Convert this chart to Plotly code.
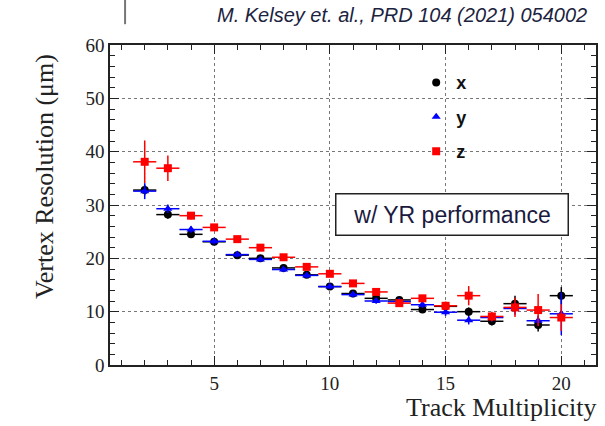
import plotly.graph_objects as go

mult = list(range(2, 21))
res_x = [32.8, 28.2, 24.5, 23.1, 20.6, 20.0, 18.2, 16.9, 14.7, 13.4, 12.5, 12.2, 10.4, 11.0, 10.0, 8.2, 11.5, 7.5, 13.0]
err_x = [1.0, 0.8, 0.6, 0.6, 0.5, 0.5, 0.5, 0.5, 0.5, 0.5, 0.5, 0.5, 0.6, 0.7, 0.8, 0.8, 1.5, 1.2, 1.6]
res_y = [32.6, 29.3, 25.4, 23.2, 20.7, 19.8, 17.9, 16.8, 14.7, 13.2, 12.0, 11.9, 11.3, 9.9, 8.4, 8.9, 10.6, 8.3, 9.6]
err_y = [1.5, 0.8, 0.6, 0.6, 0.5, 0.5, 0.5, 0.5, 0.5, 0.5, 0.5, 0.5, 0.6, 0.7, 0.8, 0.8, 1.2, 1.0, 4.0]
res_z = [38.1, 36.9, 28.0, 25.8, 23.6, 22.0, 20.2, 18.4, 17.1, 15.3, 13.7, 11.6, 12.5, 11.1, 13.0, 9.1, 10.8, 10.3, 8.9]
err_z = [4.0, 2.4, 0.7, 0.6, 0.5, 0.5, 0.5, 0.5, 0.5, 0.5, 0.5, 0.5, 0.6, 0.8, 1.8, 0.9, 1.8, 3.0, 2.5]
half_bin = [0.5] * len(mult)

series = [
    ("<b>x</b>", res_x, err_x, "#000000", "circle"),
    ("<b>y</b>", res_y, err_y, "#0000ff", "triangle-up"),
    ("<b>z</b>", res_z, err_z, "#ff0000", "square"),
]

fig = go.Figure()
for i, (name, vals, errs, col, sym) in enumerate(series):
    fig.add_trace(go.Scatter(
        x=mult, y=vals, mode="markers", name=name, legendgroup=str(i),
        marker=dict(color=col, symbol=sym, size=8),
        error_y=dict(type="data", array=errs, color=col, thickness=1.5, width=0),
        error_x=dict(type="data", array=half_bin, color=col, thickness=1.5, width=0),
    ))

axis_common = dict(
    showline=True, linecolor="#222", linewidth=1.5, mirror="allticks",
    ticks="inside", ticklen=9, tickwidth=1.3, tickcolor="#222",
    showgrid=True, gridcolor="#777", griddash="dot", gridwidth=1.2,
    zeroline=False,
    tickfont=dict(family="Liberation Serif", size=19, color="#222"),
)

fig.update_xaxes(range=[0.5, 21.5], dtick=5, tick0=0,
                 minor=dict(dtick=1, ticks="inside", ticklen=5, tickcolor="#222", showgrid=False),
                 **axis_common)
fig.update_yaxes(range=[0, 60], dtick=10, tick0=0,
                 minor=dict(dtick=2, ticks="inside", ticklen=5, tickcolor="#222", showgrid=False),
                 **axis_common)

fig.add_annotation(text="Vertex Resolution (μm)", xref="paper", yref="paper", x=-0.136, y=0.59,
                   xanchor="center", yanchor="middle", textangle=-90, showarrow=False,
                   font=dict(family="Liberation Serif", size=26, color="#222"))

fig.add_annotation(text="Track Multiplicity", xref="paper", yref="paper", x=1.005, y=-0.134,
                   xanchor="right", yanchor="middle", showarrow=False,
                   font=dict(family="Liberation Serif", size=26, color="#222"))

fig.add_annotation(text="w/ YR performance", xref="paper", yref="paper", x=0.704, y=0.469,
                   xanchor="center", yanchor="middle", showarrow=False,
                   width=225, height=34, borderpad=3, bordercolor="#222", borderwidth=1.5,
                   bgcolor="white",
                   font=dict(family="Liberation Sans", size=23, color="#1a1a40"))

fig.add_annotation(text="<i>M. Kelsey et. al., PRD 104 (2021) 054002</i>", xref="paper", yref="paper",
                   x=0.985, y=1.094, xanchor="right", yanchor="middle", showarrow=False,
                   font=dict(family="Liberation Sans", size=20, color="#1c2340"))

fig.add_shape(type="line", xref="paper", yref="paper", x0=0.031, x1=0.031, y0=1.065, y1=1.15,
              line=dict(color="#777", width=2))

fig.update_layout(
    width=605, height=426,
    margin=dict(l=110, r=7, t=45, b=61),
    paper_bgcolor="white", plot_bgcolor="white",
    showlegend=True,
    legend=dict(x=0.63, y=0.94, xanchor="left", yanchor="top", bgcolor="rgba(0,0,0,0)",
                tracegroupgap=8, itemwidth=30,
                font=dict(family="Liberation Sans", size=18, color="#111")),
)

fig.write_html("out.html")
